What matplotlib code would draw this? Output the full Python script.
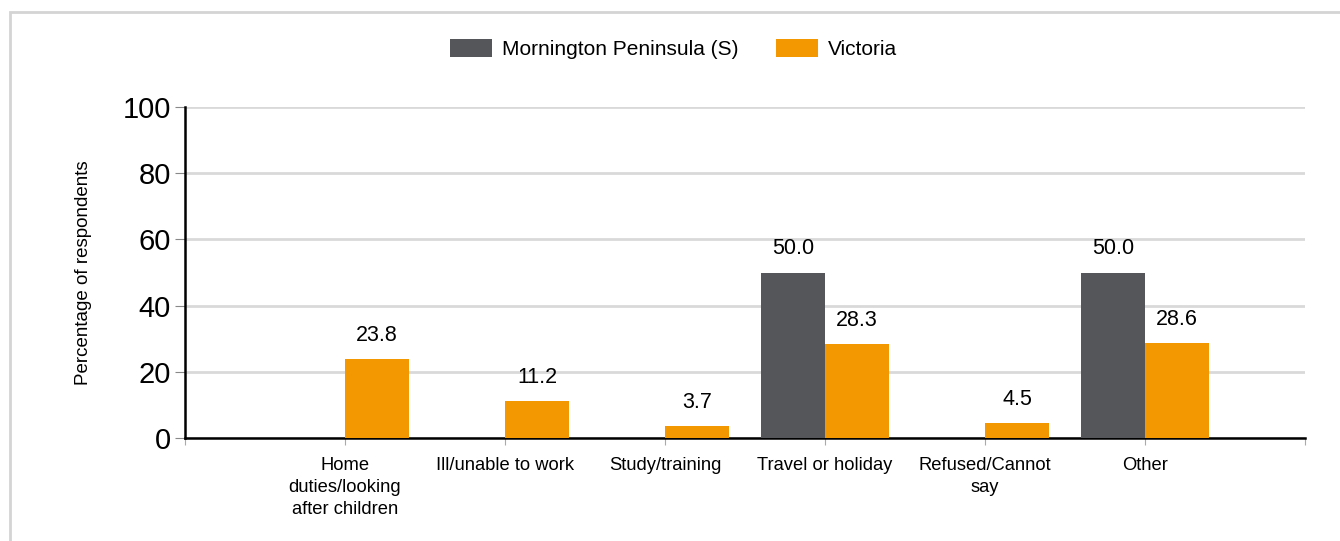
import matplotlib.pyplot as plt
import numpy as np
from matplotlib.patches import Rectangle

categories = ["Home\nduties/looking\nafter children", "Ill/unable to work", "Study/training",
              "Travel or holiday", "Refused/Cannot\nsay", "Other"]
mornington = [None, None, None, 50.0, None, 50.0]
victoria = [23.8, 11.2, 3.7, 28.3, 4.5, 28.6]
series_names = ["Mornington Peninsula (S)", "Victoria"]

GREY = "#54565a"
ORANGE = "#f39800"

plt.rcParams["font.family"] = ["Liberation Sans", "DejaVu Sans"]

fig = plt.figure(figsize=(13.4, 5.41), dpi=100)
fig.patches.append(Rectangle((10/1340, -0.1), 1.1, 1 - 12/541 + 0.1, transform=fig.transFigure,
                             fill=False, edgecolor="#d4d4d4", linewidth=2, zorder=0))
ax = fig.add_axes([185/1340, 1 - 438/541, 1120/1340, 331/541])

x = np.arange(len(categories))
w = 0.4
m_vals = [v if v is not None else 0 for v in mornington]
b1 = ax.bar(x - w/2, m_vals, w, color=GREY, label=series_names[0], zorder=3)
b2 = ax.bar(x + w/2, victoria, w, color=ORANGE, label=series_names[1], zorder=3)

for xi, v in zip(x, mornington):
    if v is not None:
        ax.text(xi - w/2, v + 4, f"{v:.1f}", ha="center", va="bottom", fontsize=15.5)
for xi, v in zip(x, victoria):
    ax.text(xi + w/2, v + 4, f"{v:.1f}", ha="center", va="bottom", fontsize=15.5)

ax.set_xlim(-1, len(categories))
ax.set_ylim(0, 100)
ax.set_xticks(np.arange(-1, len(categories) + 1))
ax.set_xticklabels([""] + categories + [""], fontsize=13.2, linespacing=1.35)
ax.set_yticks(range(0, 101, 20))
ax.tick_params(axis="y", labelsize=21, length=7, color="#888888", pad=3)
ax.tick_params(axis="x", length=5, color="#aaaaaa", pad=9)
ax.grid(axis="y", color="#d9d9d9", linewidth=2, zorder=0)
ax.set_axisbelow(True)
for s in ["top", "right"]:
    ax.spines[s].set_visible(False)
ax.spines["left"].set_linewidth(1.8)
ax.spines["bottom"].set_linewidth(1.8)
ax.set_ylabel("Percentage of respondents", fontsize=13.5, labelpad=22)

fig.legend(handles=[b1, b2], labels=series_names, loc="center", bbox_to_anchor=(0.5026, 1 - 49/541),
           ncol=2, frameon=False, fontsize=15, handlelength=2.0, handleheight=1.0,
           columnspacing=1.8, handletextpad=0.5)

fig.savefig("out.png", dpi=100)
